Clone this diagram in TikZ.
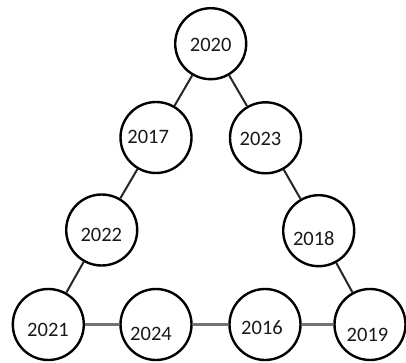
\documentclass[tikz,border=0pt]{standalone}
\usepackage{fontspec}
\setmainfont{Carlito}
\begin{document}
\begin{tikzpicture}[x=1pt,y=-1pt,
  yearring/.style={circle,draw=black,line width=2.4pt,minimum size=71pt,inner sep=0pt},
  yeartext/.style={inner sep=0pt,font=\fontsize{20.5}{24}\selectfont,text=black!90},
  slope/.style={draw=black!85,line width=2pt},
  base/.style={draw=black!55,line width=3.6pt}]
\useasboundingbox (0,0) rectangle (406,363);
% rings
\node[yearring] (n2020) at (210.7,43.7) {};
\node[yearring] (n2017) at (156,137.5) {};
\node[yearring] (n2023) at (265.5,137.8) {};
\node[yearring] (n2022) at (101.7,230) {};
\node[yearring] (n2018) at (318.7,230.7) {};
\node[yearring] (n2021) at (48.3,324.5) {};
\node[yearring] (n2024) at (156,324.5) {};
\node[yearring] (n2016) at (265,324.5) {};
\node[yearring] (n2019) at (370,324.5) {};
% connectors
\draw[slope] (n2020) -- (n2017);
\draw[slope] (n2017) -- (n2022);
\draw[slope] (n2022) -- (n2021);
\draw[slope] (n2020) -- (n2023);
\draw[slope] (n2023) -- (n2018);
\draw[slope] (n2018) -- (n2019);
\draw[base] (n2021) -- (n2024);
\draw[base] (n2024) -- (n2016);
\draw[base] (n2016) -- (n2019);
% year labels
\node[yeartext] (t2020) at ([shift={(0,1.3)}]n2020.center) {2020};
\node[yeartext] (t2017) at ([shift={(-7.8,-0.8)}]n2017.center) {2017};
\node[yeartext] (t2023) at ([shift={(-5,1.5)}]n2023.center) {2023};
\node[yeartext] (t2022) at ([shift={(-0.4,5)}]n2022.center) {2022};
\node[yeartext] (t2018) at ([shift={(-4.9,7.6)}]n2018.center) {2018};
\node[yeartext] (t2021) at ([shift={(-0.3,5.5)}]n2021.center) {2021};
\node[yeartext] (t2024) at ([shift={(-5,9.8)}]n2024.center) {2024};
\node[yeartext] (t2016) at ([shift={(-3,2.8)}]n2016.center) {2016};
\node[yeartext] (t2019) at ([shift={(-2.5,10.5)}]n2019.center) {2019};
\end{tikzpicture}
\end{document}
